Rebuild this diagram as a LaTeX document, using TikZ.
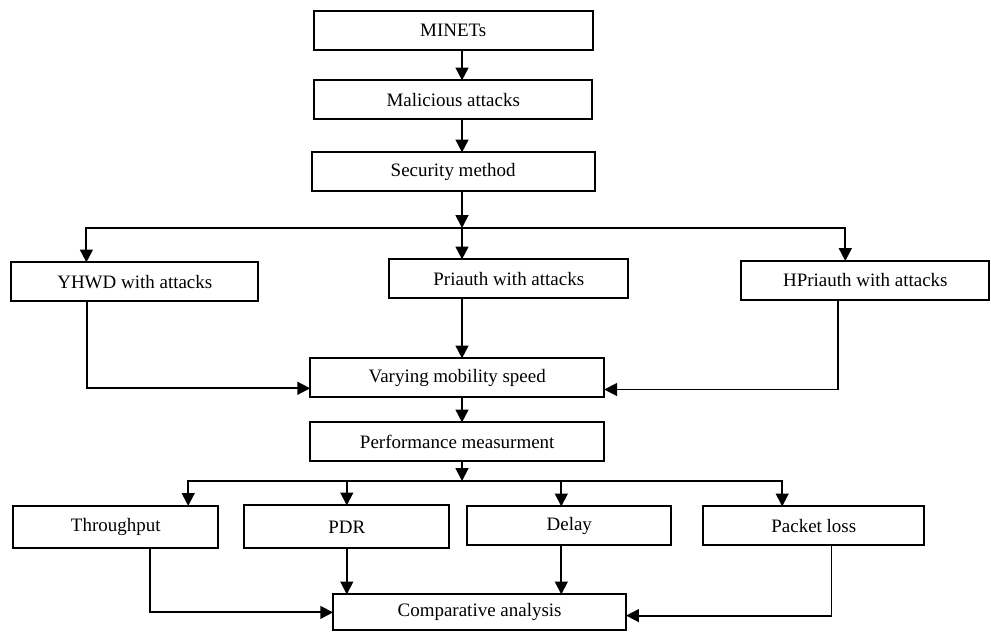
\documentclass[tikz,border=0pt]{standalone}
\usepackage{fontspec}
\setmainfont{Liberation Serif}
\usetikzlibrary{positioning,arrows.meta}

\begin{document}
\begin{tikzpicture}[>={Triangle[length=3.2mm,width=3.2mm]},line width=1.3pt,node distance=1cm]
  \tikzstyle{block}=[draw=black,line width=1.3pt,minimum height=0.975cm,inner sep=0pt,outer sep=0pt,font=\fontsize{13.5}{16}\selectfont]
  \useasboundingbox (0,0) rectangle (24.775,-15.825);

  % Nodes
  \node[block, minimum width=6.975cm] (minets) at (11.33,-0.76) {MINETs};
  \node[block, minimum width=6.95cm] (malicious) [below=0.7625cm of minets] {Malicious attacks};
  \node[block, minimum width=7.075cm] (security) [below=0.825cm of malicious] {Security method};
  \node[block, minimum width=5.975cm] (priauth) [below=1.7cm of security, xshift=1.39cm] {Priauth with attacks};
  \node[block, minimum width=6.175cm] (yhwd) [left=3.275cm of priauth, yshift=-0.075cm] {YHWD with attacks};
  \node[block, minimum width=6.2cm] (hpriauth) [right=2.825cm of priauth, yshift=-0.04cm] {HPriauth with attacks};
  \node[block, minimum width=7.35cm] (varying) [below=1.5cm of priauth, xshift=-1.29cm] {Varying mobility speed};
  \node[block, minimum width=7.35cm] (performance) [below=0.625cm of varying] {Performance measurment};
  \node[block, minimum width=5.125cm, minimum height=1.075cm] (pdr) [below=1.1cm of performance, xshift=-2.76cm] {PDR};
  \node[block, minimum width=5.125cm, minimum height=1.05cm] (throughput) [left=0.65cm of pdr] {Throughput};
  \node[block, minimum width=5.1cm] (delay) [right=0.45cm of pdr, yshift=0.025cm] {Delay};
  \node[block, minimum width=5.525cm] (packet) [right=0.8cm of delay] {Packet loss};
  \node[block, minimum width=7.325cm, minimum height=0.9cm] (comparative) [below=3.325cm of performance, xshift=0.56cm] {Comparative analysis};

  % Split points
  \coordinate (split1) at (11.55,-5.7);
  \coordinate (split2) at (11.55,-12.025);

  % Connectors
  \draw[->] (minets.south -| split1) -- (malicious.north -| split1);
  \draw[->] (malicious.south -| split1) -- (security.north -| split1);
  \draw[->] (security.south -| split1) -- (split1);
  \draw[->] (split1) -| ([xshift=-1.21cm]yhwd.north);
  \draw[->] (split1) -- (priauth.north -| split1);
  \draw[->] (split1) -| ([xshift=-0.5cm]hpriauth.north);

  \draw[->] ([xshift=-1.19cm]yhwd.south) |- ([yshift=-0.26cm]varying.west);
  \draw[->] (priauth.south -| split1) -- (varying.north -| split1);
  \draw[->] ([xshift=-0.675cm]hpriauth.south) |- ([yshift=-0.29cm]varying.east);

  \draw[->] (varying.south -| split1) -- (performance.north -| split1);
  \draw[->] (performance.south -| split1) -- (split2);
  \draw[->] (split2) -| ([xshift=1.81cm]throughput.north);
  \draw[->] (split2) -| (pdr.north);
  \draw[->] (split2) -| ([xshift=-0.2cm]delay.north);
  \draw[->] (split2) -| ([xshift=-0.79cm]packet.north);

  \draw[->] ([xshift=0.86cm]throughput.south) |- (comparative.west);
  \draw[->] (pdr.south) -- (pdr.south |- comparative.north);
  \draw[->] ([xshift=-0.2cm]delay.south) -- ([xshift=-0.2cm]delay.south |- comparative.north);
  \draw[->] ([xshift=0.44cm]packet.south) |- ([yshift=-0.08cm]comparative.east);

\end{tikzpicture}
\end{document}
